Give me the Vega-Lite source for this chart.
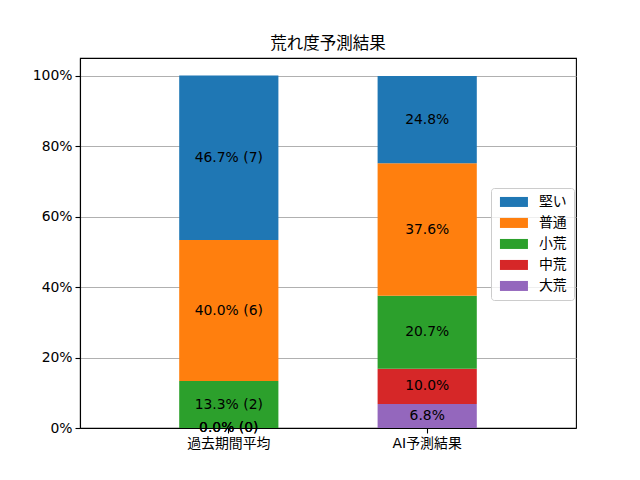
{
  "$schema": "https://vega.github.io/schema/vega-lite/v6.json",
  "autosize": {"type": "none"},
  "padding": {"left": 80, "top": 58, "right": 64, "bottom": 52},
  "width": 496,
  "height": 370,
  "background": "white",
  "config": {
    "font": "DejaVu Sans, Noto Sans CJK JP",
    "view": {"stroke": "black", "strokeWidth": 1.1},
    "axis": {"labelColor": "black", "tickColor": "black", "domainColor": "black", "domainWidth": 1.1, "tickWidth": 1.1}
  },
  "title": {"text": "荒れ度予測結果", "fontSize": 16.5, "fontWeight": "normal", "color": "black", "offset": 6, "font": "DejaVu Sans, Noto Sans CJK JP"},
  "data": {
    "values": [
      {"cat": "過去期間平均", "kind": "大荒", "k": 1, "pct": 0.0, "label": "0.0% (0)"},
      {"cat": "過去期間平均", "kind": "中荒", "k": 2, "pct": 0.0, "label": "0.0% (0)"},
      {"cat": "過去期間平均", "kind": "小荒", "k": 3, "pct": 13.33, "label": "13.3% (2)"},
      {"cat": "過去期間平均", "kind": "普通", "k": 4, "pct": 40.0, "label": "40.0% (6)"},
      {"cat": "過去期間平均", "kind": "堅い", "k": 5, "pct": 46.67, "label": "46.7% (7)"},
      {"cat": "AI予測結果", "kind": "大荒", "k": 1, "pct": 6.8, "label": "6.8%"},
      {"cat": "AI予測結果", "kind": "中荒", "k": 2, "pct": 10.0, "label": "10.0%"},
      {"cat": "AI予測結果", "kind": "小荒", "k": 3, "pct": 20.7, "label": "20.7%"},
      {"cat": "AI予測結果", "kind": "普通", "k": 4, "pct": 37.6, "label": "37.6%"},
      {"cat": "AI予測結果", "kind": "堅い", "k": 5, "pct": 24.8, "label": "24.8%"}
    ]
  },
  "transform": [
    {"stack": "pct", "groupby": ["cat"], "sort": [{"field": "k", "order": "ascending"}], "as": ["y0", "y1"]},
    {"calculate": "(datum.y0 + datum.y1) / 2", "as": "mid"}
  ],
  "encoding": {
    "x": {
      "field": "cat", "type": "nominal", "sort": ["過去期間平均", "AI予測結果"],
      "scale": {"paddingInner": 0.5, "paddingOuter": 0.5},
      "axis": {"title": null, "labelAngle": 0, "labelFontSize": 13.9, "tickSize": 5, "labelPadding": 3, "grid": false}
    }
  },
  "layer": [
    {
      "mark": {"type": "bar"},
      "encoding": {
        "y": {
          "field": "y0", "type": "quantitative",
          "scale": {"domain": [0, 105], "nice": false, "zero": true},
          "axis": {"title": null, "values": [0, 20, 40, 60, 80, 100], "labelExpr": "datum.value + '%'", "labelFontSize": 13.9, "tickSize": 5, "labelPadding": 3, "grid": true, "gridColor": "#b0b0b0", "gridWidth": 1.1}
        },
        "y2": {"field": "y1"},
        "color": {
          "field": "kind", "type": "nominal",
          "scale": {"domain": ["堅い", "普通", "小荒", "中荒", "大荒"], "range": ["#1f77b4", "#ff7f0e", "#2ca02c", "#d62728", "#9467bd"]},
          "legend": {
            "title": null, "orient": "none", "legendX": 411, "legendY": 130,
            "symbolType": "M-2.8,-1L2.8,-1L2.8,1L-2.8,1Z", "symbolSize": 100, "symbolStrokeWidth": 0, "symbolOffset": 9,
            "labelFontSize": 13.9, "labelColor": "black", "labelOffset": 18,
            "rowPadding": 6, "padding": 7, "strokeColor": "#cccccc", "fillColor": "rgba(255,255,255,0.8)", "cornerRadius": 3
          }
        }
      }
    },
    {
      "mark": {"type": "text", "fontSize": 13.9, "color": "black", "baseline": "middle", "align": "center"},
      "encoding": {
        "y": {"field": "mid", "type": "quantitative"},
        "text": {"field": "label", "type": "nominal"}
      }
    }
  ]
}
